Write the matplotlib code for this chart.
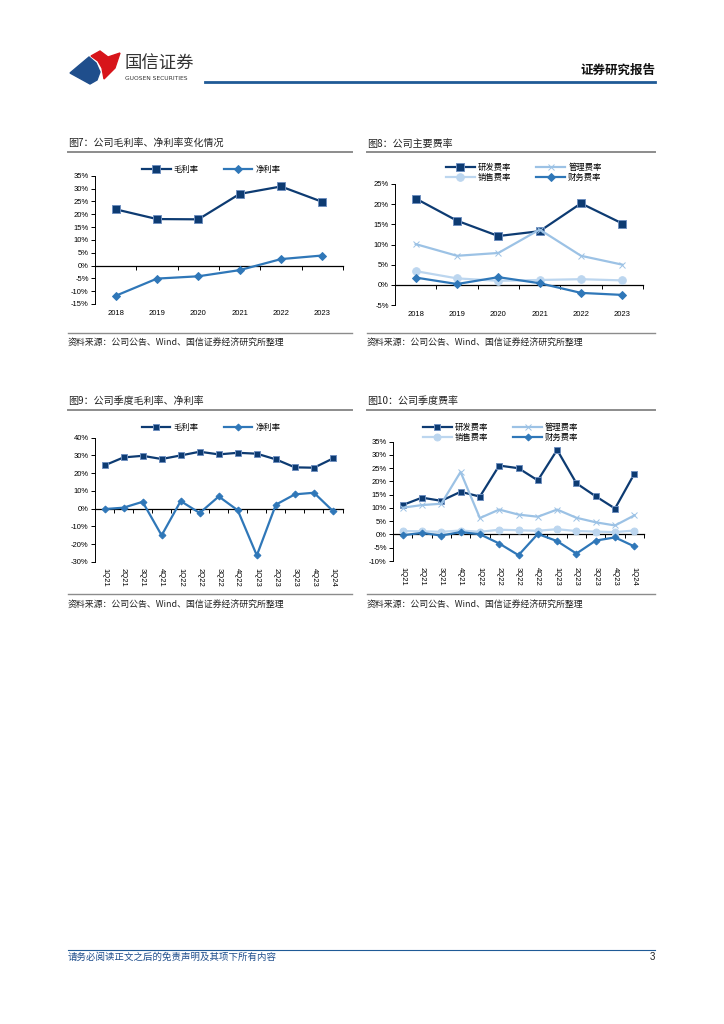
import matplotlib
matplotlib.use("Agg")
import matplotlib.pyplot as plt
from matplotlib.patches import Polygon
from matplotlib.lines import Line2D
import numpy as np

plt.rcParams['font.family'] = ['Noto Sans CJK SC', 'DejaVu Sans']

# ---- data ----
years = ['2018', '2019', '2020', '2021', '2022', '2023']
gross_year = [21.9, 18.1, 18.0, 27.9, 30.8, 24.8]
net_year = [-11.8, -5.1, -4.2, -1.8, 2.5, 3.9]

rd_year = [21.4, 15.9, 12.1, 13.3, 20.2, 15.2]
admin_year = [10.1, 7.2, 7.9, 13.7, 7.2, 5.0]
sales_year = [3.4, 1.6, 1.0, 1.2, 1.4, 1.1]
fin_year = [1.8, 0.2, 1.9, 0.4, -2.0, -2.5]

quarters = ['1Q21', '2Q21', '3Q21', '4Q21', '1Q22', '2Q22', '3Q22', '4Q22',
            '1Q23', '2Q23', '3Q23', '4Q23', '1Q24']
gross_q = [24.4, 28.9, 29.8, 28.0, 30.0, 32.1, 30.6, 31.5, 31.0, 27.8, 23.3, 23.1, 28.3]
net_q = [-0.2, 0.6, 3.9, -15.0, 4.3, -2.4, 6.9, -0.9, -26.3, 2.3, 8.1, 9.0, -1.3]

rd_q = [11.1, 13.9, 12.7, 16.1, 14.3, 26.0, 25.0, 20.4, 31.9, 19.3, 14.4, 9.8, 22.9]
admin_q = [10.1, 11.1, 11.6, 23.6, 6.2, 9.4, 7.5, 6.7, 9.4, 6.3, 4.6, 3.4, 7.2]
sales_q = [1.3, 1.2, 1.0, 1.5, 1.0, 1.8, 1.6, 1.4, 2.0, 1.3, 1.1, 0.9, 1.5]
fin_q = [-0.3, 0.6, -0.4, 0.9, 0.1, -3.4, -7.8, 0.2, -2.5, -7.2, -2.3, -1.1, -4.5]

DARK = '#0d3b72'
MID = '#2f77b8'
LIGHT = '#9cc2e5'
PALE = '#bcd6ef'

W, H = 724, 1024
fig = plt.figure(figsize=(W / 100, H / 100), dpi=100)


def fx(x):
    return x / W


def fy(y):
    return 1 - y / H


def hline(x0, x1, y, color, lw):
    fig.add_artist(Line2D([fx(x0), fx(x1)], [fy(y), fy(y)], color=color, lw=lw,
                          transform=fig.transFigure))


def chart(x0, x1, ytop, ybot, cats, series, ylo, yhi, step, leg_xy, rotate=False):
    ax = fig.add_axes([fx(x0), fy(ybot), fx(x1) - fx(x0), (ybot - ytop) / H])
    n = len(cats)
    xs = np.arange(n)
    for vals, lab, col, mk, ms, mec in series:
        ax.plot(xs, vals, color=col, lw=1.6, marker=mk, ms=ms, mfc=col, mec=mec,
                mew=0.7, label=lab, zorder=3)
    ax.set_xlim(-0.5, n - 0.5)
    ax.set_ylim(ylo, yhi)
    ticks = np.arange(ylo, yhi + 0.1, step)
    ax.set_yticks(ticks)
    ax.set_yticklabels(['%d%%' % t for t in ticks])
    ax.set_xticks(xs)
    ax.set_xticklabels(cats, rotation=270 if rotate else 0)
    ax.tick_params(axis='x', length=0, pad=4, labelsize=5.5)
    ax.tick_params(axis='y', length=3, width=0.7, pad=1.5, labelsize=5.5)
    for t in ax.get_xticklabels() + ax.get_yticklabels():
        t.set_fontfamily('Liberation Sans')
    for s in ['top', 'right', 'bottom']:
        ax.spines[s].set_visible(False)
    ax.spines['left'].set_linewidth(0.7)
    zero = (0 - ylo) / (yhi - ylo)
    sec = ax.secondary_xaxis(zero)
    sec.set_xticks(np.arange(n) + 0.5)
    sec.set_xticklabels([])
    sec.tick_params(length=3, width=0.7, direction='out')
    sec.spines['bottom'].set_linewidth(0.9)
    ax.legend(loc='center', bbox_to_anchor=leg_xy, ncol=2, frameon=False,
              fontsize=6, handlelength=3.4, columnspacing=3.0, labelspacing=0.05,
              handletextpad=0.4, borderpad=0)
    return ax


def panel_text(x0, x1, ytitle, yline, title, ysrcline, ysrc):
    fig.text(fx(x0), fy(ytitle), title, fontsize=7.2, color='#222222', va='center')
    hline(x0, x1, yline, '#8c8c8c', 1.4)
    hline(x0, x1, ysrcline, '#8c8c8c', 1.0)
    fig.text(fx(x0), fy(ysrc), '资料来源：公司公告、Wind、国信证券经济研究所整理',
             fontsize=6.4, color='#222222', va='center')


# ---- header ----
blue_logo = Polygon([(fx(70), fy(73)), (fx(89), fy(57)), (fx(96), fy(63)),
                     (fx(100), fy(72)), (fx(97), fy(80)), (fx(90), fy(84))],
                    closed=True, color='#1f4e8c', transform=fig.transFigure)
red_logo = Polygon([(fx(91), fy(56)), (fx(100), fy(51)), (fx(108), fy(57)),
                    (fx(120), fy(53)), (fx(115), fy(68)), (fx(104), fy(79)),
                    (fx(102), fy(68)), (fx(98), fy(61))], closed=True,
                   color='#d7141a', transform=fig.transFigure)
fig.add_artist(blue_logo)
fig.add_artist(red_logo)
fig.text(fx(124), fy(64), '国信证券', fontsize=12.5, color='#333333', va='center')
fig.text(fx(125), fy(78), 'GUOSEN SECURITIES', fontsize=4.3, color='#333333',
         va='center', family=['DejaVu Sans'])
fig.text(fx(655), fy(70), '证券研究报告', fontsize=9, fontweight='bold',
         color='#111111', ha='right', va='center')
hline(205, 655, 82, '#1f5a96', 2.0)

# ---- row 1 ----
panel_text(68, 352, 144, 152, '图7：公司毛利率、净利率变化情况', 333, 343)
panel_text(367, 655, 144, 152, '图8：公司主要费率', 333, 343)

chart(95, 343, 175.7, 304, years,
      [(gross_year, '毛利率', DARK, 's', 5.5, '#6f8fbf'),
       (net_year, '净利率', MID, 'D', 3.8, MID)],
      -15, 35, 5, (0.47, 1.05))

chart(395, 643, 184, 305, years,
      [(rd_year, '研发费率', DARK, 's', 5.5, '#6f8fbf'),
       (sales_year, '销售费率', PALE, 'o', 5.5, PALE),
       (admin_year, '管理费率', LIGHT, 'x', 5, LIGHT),
       (fin_year, '财务费率', MID, 'D', 3.8, MID)],
      -5, 25, 5, (0.52, 1.095))

# ---- row 2 ----
panel_text(68, 352, 401, 410, '图9：公司季度毛利率、净利率', 594, 605)
panel_text(367, 655, 401, 410, '图10：公司季度费率', 594, 605)

chart(95, 342.5, 437.7, 562, quarters,
      [(gross_q, '毛利率', DARK, 's', 5, '#6f8fbf'),
       (net_q, '净利率', MID, 'D', 3.5, MID)],
      -30, 40, 10, (0.47, 1.086), rotate=True)

chart(393, 644, 441.7, 561, quarters,
      [(rd_q, '研发费率', DARK, 's', 5, '#6f8fbf'),
       (sales_q, '销售费率', PALE, 'o', 5, PALE),
       (admin_q, '管理费率', LIGHT, 'x', 4.5, LIGHT),
       (fin_q, '财务费率', MID, 'D', 3.5, MID)],
      -10, 35, 5, (0.43, 1.077), rotate=True)

# ---- footer ----
hline(68, 655, 950, '#1f5a96', 0.8)
fig.text(fx(68), fy(957), '请务必阅读正文之后的免责声明及其项下所有内容', fontsize=6.8,
         color='#1f4e8c', style='italic', va='center')
fig.text(fx(655), fy(957), '3', fontsize=7, color='#222222', ha='right', va='center',
         family=['Liberation Sans'])

fig.savefig('out.png', dpi=100)
